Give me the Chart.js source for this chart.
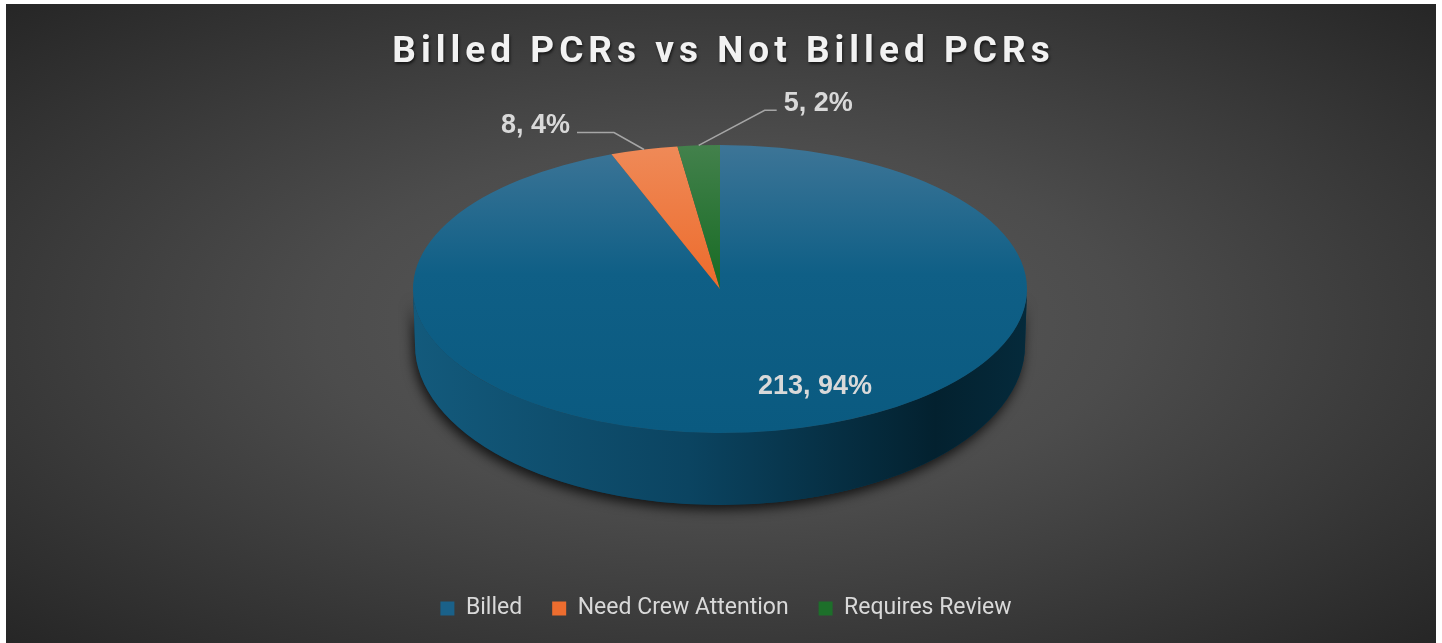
<!DOCTYPE html>
<html>
<head>
<meta charset="utf-8">
<title>Billed PCRs vs Not Billed PCRs</title>
<script src="https://cdn.jsdelivr.net/npm/chart.js@4.4.1/dist/chart.umd.min.js"></script>
<style>
  html, body { margin: 0; padding: 0; background: #ffffff; }
  #wrap {
    position: absolute; left: 6px; top: 4px; width: 1430px; height: 639px;
    background: radial-gradient(ellipse farthest-corner at 50% 50%, #5c5c5c 0%, #4c4c4c 40%, #262626 100%);
    overflow: hidden;
  }
  #title {
    position: absolute; left: 0; top: 25px; width: 100%;
    text-align: center; font: bold 37px Roboto, sans-serif; line-height: 42px;
    letter-spacing: 5px; padding-left: 5px; box-sizing: border-box;
    color: #f2f2f2; text-shadow: 1px 2px 3px rgba(0, 0, 0, 0.65);
  }
  #chartBox { position: absolute; left: 0; top: 0; width: 1430px; height: 639px; }
</style>
</head>
<body>
<div id="wrap">
  <canvas id="chartBox"></canvas>
  <div id="title">Billed PCRs vs Not Billed PCRs</div>
</div>
<script>
// ---------------- DATA ----------------
const categories = ["Billed", "Need Crew Attention", "Requires Review"];
const counts = [213, 8, 5];

// ---------------- LOOK ----------------
const solidColors = ["#1a6189", "#ed6d2f", "#1d6f2a"];
const topGradients = [
  ["#3d7597", "#0f5f86", "#0a5a80"],
  ["#ef8a58", "#ed6e30", "#ec6a28"],
  ["#43814c", "#1b6d27", "#156a23"]
];
const wallGradients = [
  ["#135a7c", "#0b4461", "#03212f", "#052a3b"],
  ["#b4501f", "#9a4217", "#6e2e10", "#7a3412"],
  ["#175a20", "#124b1a", "#0b3510", "#0d3a13"]
];
// where the flattened pie sits on the canvas (top face and the base seen in perspective)
const PIE = { x: 714, y: 285, rx: 307, ry: 144, baseDy: 56, baseRx: 305, baseRy: 160 };
const labelFont = "bold 27px 'Liberation Sans', Arial, sans-serif";
const labelColor = "#d9d9d9";
// leader lines for the thin slices (index -> elbow offset and horizontal run)
const leaders = { 1: { dx: -30, dy: -17, run: 37 }, 2: { dx: 66, dy: -35, run: 12 } };

const total = counts.reduce((a, b) => a + b, 0);
const labels = counts.map(v => v + ", " + Math.round(v / total * 100) + "%");

function sliceFill(context) {
  const chart = context.chart;
  const area = chart.chartArea;
  const i = context.dataIndex;
  if (!area) return solidColors[i];
  const cy = (area.top + area.bottom) / 2;
  const r = Math.min(area.width, area.height) / 2;
  const g = chart.ctx.createLinearGradient(0, cy - r, 0, cy + r);
  g.addColorStop(0, topGradients[i][0]);
  g.addColorStop(0.45, topGradients[i][1]);
  g.addColorStop(1, topGradients[i][2]);
  return g;
}

// ---------------- 3D PIE PLUGIN ----------------
function wallPath(ctx, s, e) {
  ctx.beginPath();
  ctx.ellipse(PIE.x, PIE.y, PIE.rx, PIE.ry, 0, s, e);
  ctx.ellipse(PIE.x, PIE.y + PIE.baseDy, PIE.baseRx, PIE.baseRy, 0, e, s, true);
  ctx.closePath();
}

const pie3d = {
  id: "pie3d",
  beforeDatasetsDraw(chart) {
    const ctx = chart.ctx;
    const arcs = chart.getDatasetMeta(0).data;

    // soft shadow under the front wall
    ctx.save();
    ctx.shadowColor = "rgba(0, 0, 0, 0.75)";
    ctx.shadowBlur = 12;
    ctx.shadowOffsetX = -2;
    ctx.shadowOffsetY = 5;
    ctx.fillStyle = "#0a3a53";
    wallPath(ctx, 0, Math.PI);
    ctx.fill();
    ctx.restore();

    // front wall pieces of every slice that faces us
    arcs.forEach((arc, i) => {
      [-2 * Math.PI, 0, 2 * Math.PI].forEach(k => {
        const s = Math.max(arc.startAngle, k);
        const e = Math.min(arc.endAngle, k + Math.PI);
        if (e <= s) return;
        const g = ctx.createLinearGradient(PIE.x - PIE.rx, 0, PIE.x + PIE.rx, 0);
        g.addColorStop(0, wallGradients[i][0]);
        g.addColorStop(0.45, wallGradients[i][1]);
        g.addColorStop(0.85, wallGradients[i][2]);
        g.addColorStop(1, wallGradients[i][3]);
        ctx.fillStyle = g;
        wallPath(ctx, s - k, e - k);
        ctx.fill();
      });
    });

    // flatten the library's pie into the top face
    const a = arcs[0];
    ctx.save();
    ctx.translate(PIE.x, PIE.y);
    ctx.scale(PIE.rx / a.outerRadius, PIE.ry / a.outerRadius);
    ctx.translate(-a.x, -a.y);
  },
  afterDatasetsDraw(chart) {
    const ctx = chart.ctx;
    ctx.restore();

    const arcs = chart.getDatasetMeta(0).data;
    ctx.save();
    ctx.font = labelFont;
    ctx.fillStyle = labelColor;
    ctx.strokeStyle = "#a6a6a6";
    ctx.lineWidth = 1.5;
    arcs.forEach((arc, i) => {
      const mid = (arc.startAngle + arc.endAngle) / 2;
      const lead = leaders[i];
      if (!lead) {
        const x = PIE.x + PIE.rx * 0.67 * Math.cos(mid) + 58;
        const y = PIE.y + PIE.ry * 0.67 * Math.sin(mid) + 3;
        ctx.textAlign = "center";
        ctx.textBaseline = "middle";
        ctx.fillText(labels[i], x, y);
        return;
      }
      const ex = PIE.x + PIE.rx * Math.cos(mid);
      const ey = PIE.y + PIE.ry * Math.sin(mid);
      const bx = ex + lead.dx, by = ey + lead.dy;
      const dir = lead.dx < 0 ? -1 : 1;
      const hx = bx + dir * lead.run;
      ctx.beginPath();
      ctx.moveTo(ex, ey);
      ctx.lineTo(bx, by);
      ctx.lineTo(hx, by);
      ctx.stroke();
      ctx.textAlign = dir < 0 ? "right" : "left";
      ctx.textBaseline = "alphabetic";
      ctx.fillText(labels[i], hx + dir * 7, by + 1);
    });
    ctx.restore();
  }
};

// ---------------- CHART ----------------
new Chart(document.getElementById("chartBox"), {
  type: "pie",
  data: {
    labels: categories,
    datasets: [{
      data: counts,
      backgroundColor: sliceFill,
      borderWidth: 0,
      clip: false
    }]
  },
  options: {
    responsive: true,
    maintainAspectRatio: false,
    animation: false,
    events: [],
    layout: { padding: { top: 80, bottom: 13, left: 10 } },
    plugins: {
      tooltip: { enabled: false },
      legend: {
        position: "bottom",
        labels: {
          color: "#d9d9d9",
          font: { family: "Roboto", size: 23 },
          boxWidth: 14,
          boxHeight: 14,
          padding: 30,
          generateLabels: (chart) => categories.map((c, i) => ({
            text: c,
            fillStyle: solidColors[i],
            strokeStyle: "rgba(0,0,0,0)",
            lineWidth: 0,
            fontColor: "#d9d9d9",
            hidden: false,
            index: i
          }))
        }
      }
    }
  },
  plugins: [pie3d]
});
</script>
</body>
</html>
